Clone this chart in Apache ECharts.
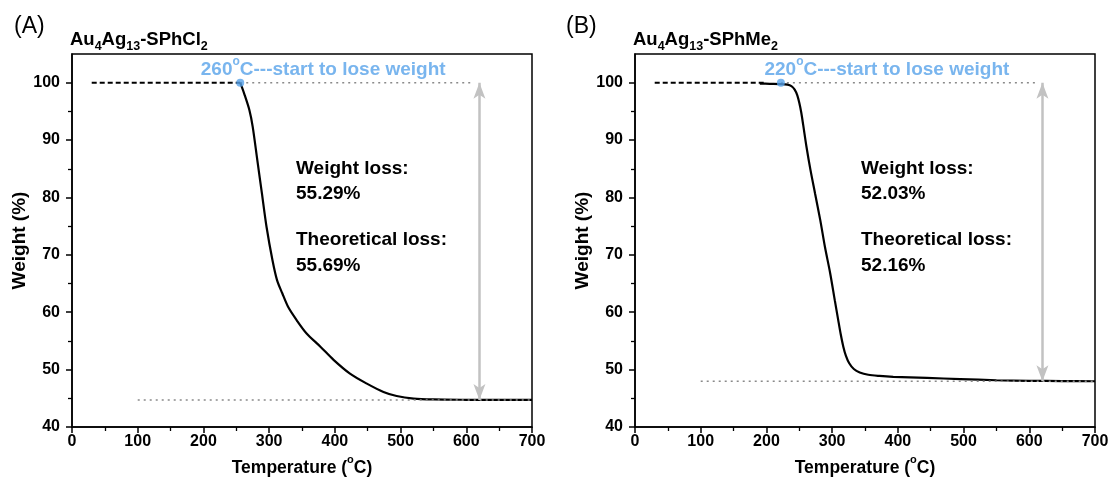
<!DOCTYPE html>
<html>
<head>
<meta charset="utf-8">
<script src="https://cdn.jsdelivr.net/npm/echarts@6/dist/echarts.min.js"></script>
<style>html,body{margin:0;padding:0;background:#fff;}#main{width:1113px;height:480px;}</style>
</head>
<body>
<div id="main"></div>
<script>
// ---------- data ----------
const xTicks = [0, 100, 200, 300, 400, 500, 600, 700];
const yTicks = [40, 50, 60, 70, 80, 90, 100];
const yMinorTicks = [45, 55, 65, 75, 85, 95];

// Panel A : Au4Ag13-SPhCl2
const flatA_T = [30, 256];
const flatA_W = [100, 100];
const curveA_T = [256, 262, 270, 275, 282, 289, 296, 305, 312, 320, 329, 342, 357, 378, 398, 423, 448, 474, 494, 520, 550, 600, 650, 700];
const curveA_W = [100, 98.1, 95.2, 92.3, 86.5, 80.7, 74.9, 69.1, 65.6, 63.3, 60.9, 58.6, 56.3, 54.0, 51.7, 49.3, 47.6, 46.1, 45.4, 44.95, 44.8, 44.74, 44.72, 44.71];
const onsetA = [256, 100];
const onsetLabelA = "260";
const residueA = 44.71;
const notesA = ["Weight loss:", "55.29%", "Theoretical loss:", "55.69%"];

// Panel B : Au4Ag13-SPhMe2
const flatB_T = [30, 200];
const flatB_W = [100, 100];
const curveB_T = [190, 205, 222, 232, 238, 243, 247, 250, 253, 256, 261, 267, 274, 282, 289, 297, 304, 309, 313, 317, 321, 326, 333, 342, 355, 372, 393, 444, 495, 550, 600, 650, 700];
const curveB_W = [99.85, 99.8, 99.75, 99.65, 99.4, 98.8, 97.8, 96.5, 94.8, 92.6, 88.8, 84.8, 80.7, 76.0, 71.4, 66.8, 62.1, 58.8, 56.2, 54.0, 52.4, 51.1, 50.1, 49.5, 49.1, 48.9, 48.75, 48.55, 48.35, 48.15, 48.05, 48.0, 47.97];
const onsetB = [222, 100];
const onsetLabelB = "220";
const residueB = 47.97;
const notesB = ["Weight loss:", "52.03%", "Theoretical loss:", "52.16%"];

const arrowT = 620;
const dottedTopEnd = 610;
const dottedBottomStart = 100;

// ---------- chart ----------
const FONT = '"Liberation Sans", Arial, Helvetica, sans-serif';
const BLUE = '#58a3ea';
const pairs = (xs, ys) => xs.map((x, i) => [x, ys[i]]);

const chart = echarts.init(document.getElementById('main'), null, {renderer: 'canvas'});

function xAxisCfg(g) {
  return {
    type: 'value', gridIndex: g, min: 0, max: 700, interval: 100,
    axisLine: {onZero: false, lineStyle: {color: '#000', width: 1.5}},
    axisTick: {show: true, length: 6, lineStyle: {color: '#000', width: 1.5}},
    minorTick: {show: true, splitNumber: 2, length: 4, lineStyle: {color: '#000', width: 1.3}},
    splitLine: {show: false}, minorSplitLine: {show: false},
    axisLabel: {color: '#000', fontSize: 16, fontWeight: 'bold', fontFamily: FONT, margin: 7},
    name: 'Temperature ({sup|o}C)', nameLocation: 'middle', nameGap: 25,
    nameTextStyle: {color: '#000', fontSize: 17.5, fontWeight: 'bold', fontFamily: FONT, lineHeight: 26,
      rich: {sup: {fontSize: 11, fontWeight: 'bold', fontFamily: FONT, color: '#000', verticalAlign: 'top', lineHeight: 14}}}
  };
}
function yAxisCfg(g) {
  return {
    type: 'value', gridIndex: g, min: 40, max: 105, interval: 10, position: 'left',
    axisLine: {onZero: false, lineStyle: {color: '#000', width: 1.5}},
    axisTick: {show: true, length: 6, customValues: yTicks, lineStyle: {color: '#000', width: 1.5}},
    splitLine: {show: false},
    axisLabel: {customValues: yTicks, color: '#000', fontSize: 16, fontWeight: 'bold', fontFamily: FONT, margin: 12},
    name: 'Weight (%)', nameLocation: 'middle', nameGap: 41,
    nameTextStyle: {color: '#000', fontSize: 19, fontWeight: 'bold', fontFamily: FONT}
  };
}
function yMinorCfg(g) {
  return {
    type: 'value', gridIndex: g, min: 40, max: 105, interval: 10, position: 'left', offset: 0,
    axisLine: {show: false},
    axisTick: {show: true, length: 4, customValues: yMinorTicks, lineStyle: {color: '#000', width: 1.3}},
    axisLabel: {show: false}, splitLine: {show: false}
  };
}

function panelSeries(xi, yi, flatT, flatW, cT, cW, onset, onsetLabel, residue, labelDx) {
  return [
    {type: 'line', xAxisIndex: xi, yAxisIndex: yi, data: pairs(flatT, flatW), symbol: 'none', silent: true,
     lineStyle: {color: '#000', width: 2, type: [5, 3]}, z: 3},
    {type: 'line', xAxisIndex: xi, yAxisIndex: yi, data: pairs(cT, cW), symbol: 'none', smooth: 0.3, silent: true,
     lineStyle: {color: '#000', width: 2.2}, z: 3},
    {type: 'line', xAxisIndex: xi, yAxisIndex: yi, data: [[onset[0], onset[1]], [dottedTopEnd, onset[1]]], symbol: 'none', silent: true,
     lineStyle: {color: '#8a8a8a', width: 1.6, type: [2, 4]}, z: 2},
    {type: 'line', xAxisIndex: xi, yAxisIndex: yi, data: [[dottedBottomStart, residue], [700, residue]], symbol: 'none', silent: true,
     lineStyle: {color: '#8a8a8a', width: 1.6, type: [2, 4]}, z: 4,
     markLine: {silent: true, symbol: ['arrow', 'arrow'], symbolSize: [9, 16], label: {show: false},
       lineStyle: {color: '#c2c2c2', width: 2.5, type: 'solid'},
       data: [[{coord: [arrowT, onset[1]]}, {coord: [arrowT, residue]}]]}},
    {type: 'scatter', xAxisIndex: xi, yAxisIndex: yi, data: [onset], symbolSize: 8, silent: true,
     itemStyle: {color: BLUE}, z: 5,
     label: {show: true, position: 'top', distance: 0, offset: [labelDx, 5],
       formatter: () => onsetLabel + '{sup|o}C---start to lose weight',
       color: BLUE, fontSize: 19, fontWeight: 'bold', fontFamily: FONT, lineHeight: 28,
       rich: {sup: {fontSize: 12, fontWeight: 'bold', fontFamily: FONT, color: BLUE, verticalAlign: 'top', lineHeight: 16}}}}
  ];
}

function notes(x, arr) {
  const ys = [170, 195, 241, 267];
  return arr.map((t, i) => ({type: 'text', left: x, top: ys[i] - 11,
    style: {text: t, fill: '#000', font: 'bold 19px ' + FONT}}));
}

const titleRich = {
  b: {fontSize: 18.5, fontWeight: 'bold', fontFamily: FONT, color: '#000', lineHeight: 26},
  s: {fontSize: 12.5, fontWeight: 'bold', fontFamily: FONT, color: '#000', lineHeight: 12, verticalAlign: 'bottom'}
};

chart.setOption({
  animation: false,
  backgroundColor: '#fff',
  title: [
    {text: '(A)', left: 9, top: 10, textStyle: {fontSize: 23, fontWeight: 'normal', fontFamily: FONT, color: '#000'}},
    {text: '(B)', left: 561, top: 10, textStyle: {fontSize: 23, fontWeight: 'normal', fontFamily: FONT, color: '#000'}},
    {text: '{b|Au}{s|4}{b|Ag}{s|13}{b|-SPhCl}{s|2}', left: 65, top: 22, textStyle: {rich: titleRich}},
    {text: '{b|Au}{s|4}{b|Ag}{s|13}{b|-SPhMe}{s|2}', left: 628, top: 22, textStyle: {rich: titleRich}}
  ],
  grid: [
    {left: 72, right: 581, top: 54, bottom: 53, outerBoundsMode: 'none', containLabel: false, show: true, borderColor: '#000', borderWidth: 1.5, backgroundColor: 'transparent'},
    {left: 635, right: 18, top: 54, bottom: 53, outerBoundsMode: 'none', containLabel: false, show: true, borderColor: '#000', borderWidth: 1.5, backgroundColor: 'transparent'}
  ],
  xAxis: [xAxisCfg(0), xAxisCfg(1)],
  yAxis: [yAxisCfg(0), yMinorCfg(0), yAxisCfg(1), yMinorCfg(1)],
  series: [
    ...panelSeries(0, 0, flatA_T, flatA_W, curveA_T, curveA_W, onsetA, onsetLabelA, residueA, 83),
    ...panelSeries(1, 2, flatB_T, flatB_W, curveB_T, curveB_W, onsetB, onsetLabelB, residueB, 106)
  ],
  graphic: [...notes(296, notesA), ...notes(861, notesB)]
});
</script>
</body>
</html>
